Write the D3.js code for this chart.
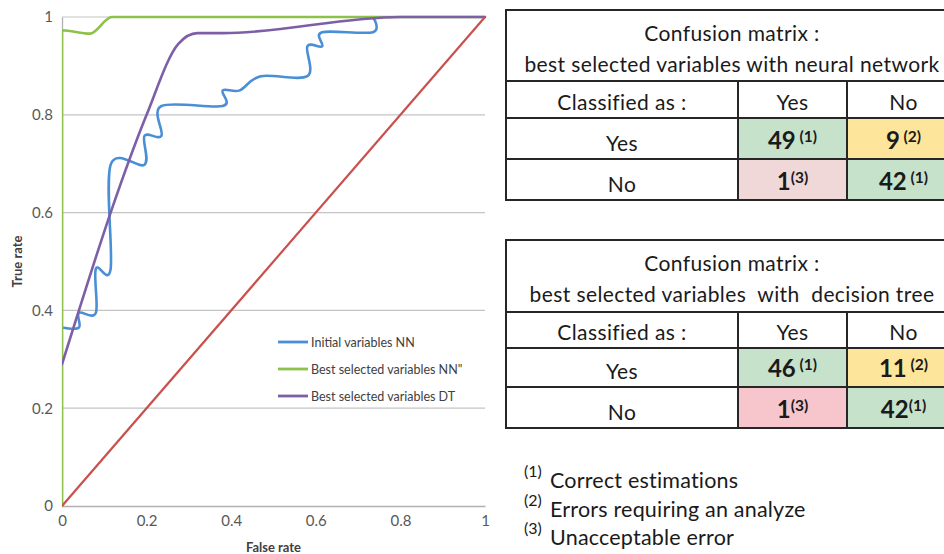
<!DOCTYPE html>
<html>
<head>
<meta charset="utf-8">
<script src="https://cdn.jsdelivr.net/npm/d3@7"></script>
<style>
  html, body { margin: 0; padding: 0; background: #ffffff; }
  svg { display: block; }
</style>
</head>
<body>
<svg id="chart" width="944" height="554"></svg>
<script>
// ---------------- DATA ----------------
const axisTicks = [0, 0.2, 0.4, 0.6, 0.8, 1];
const tickLabels = ["0", "0.2", "0.4", "0.6", "0.8", "1"];

const seriesNames = ["Initial variables NN", "Best selected variables NN\"", "Best selected variables DT"];
const seriesColors = ["#4a8fd6", "#8dc14a", "#7d5fa8"];
const diagonalColor = "#c9504c";

// Initial variables NN (false rate, true rate)
const initialFpr = [0, 0.04, 0.04, 0.08, 0.08, 0.115, 0.115, 0.195, 0.195, 0.235, 0.235, 0.38, 0.38, 0.42, 0.47, 0.58, 0.58, 0.615, 0.615, 0.735, 0.735];
const initialTpr = [0.365, 0.365, 0.395, 0.395, 0.485, 0.485, 0.698, 0.698, 0.757, 0.757, 0.818, 0.818, 0.85, 0.85, 0.879, 0.879, 0.94, 0.94, 0.969, 0.969, 1];

// Best selected variables NN"
const bestNNFpr = [0, 0, 0.066, 0.118, 1];
const bestNNTpr = [0, 0.973, 0.966, 1, 1];

// Best selected variables DT
const bestDTFpr = [0, 0.04, 0.115, 0.2, 0.275, 0.32, 0.38, 0.8, 1];
const bestDTTpr = [0.29, 0.4, 0.6, 0.8, 0.945, 0.967, 0.967, 1, 1];

// Random classifier diagonal
const diagFpr = [0, 1];
const diagTpr = [0, 1];

// Confusion matrices
const matrixColLabels = ["Yes", "No"];
const matrixRowLabels = ["Yes", "No"];
const nnTitle = ["Confusion matrix :", "best selected variables with neural network"];
const nnValues = [[49, 9], [1, 42]];
const nnNotes = [[" (1)", " (2)"], ["(3)", " (1)"]];
const dtTitle = ["Confusion matrix :", "best selected variables  with  decision tree"];
const dtValues = [[46, 11], [1, 42]];
const dtNotes = [[" (1)", " (2)"], ["(3)", "(1)"]];
const footnoteMarks = ["(1)", "(2)", "(3)"];
const footnoteTexts = ["Correct estimations", "Errors requiring an analyze", "Unacceptable error"];

// ---------------- CHART ----------------
const svg = d3.select("#chart");
const FONT = "Lato, 'Open Sans', sans-serif";

const x = d3.scaleLinear().domain([0, 1]).range([62, 485]);
const y = d3.scaleLinear().domain([0, 1]).range([506, 17]);

svg.append("defs").append("clipPath").attr("id", "plotclip")
  .append("rect").attr("x", x(0)).attr("y", 0).attr("width", 944 - x(0)).attr("height", 554);

// grid lines
svg.append("g")
  .selectAll("line")
  .data(axisTicks.filter(d => d > 0))
  .join("line")
  .attr("x1", x(0)).attr("x2", x(1))
  .attr("y1", d => y(d)).attr("y2", d => y(d))
  .attr("stroke", "#c4c4c4").attr("stroke-width", 1.2);

// axes
const xAxis = svg.append("g")
  .attr("transform", `translate(0,${y(0)})`)
  .call(d3.axisBottom(x).tickValues(axisTicks).tickFormat((d, i) => tickLabels[i]).tickSize(0).tickPadding(9));
xAxis.select(".domain").attr("stroke", "#b0b0b0").attr("stroke-width", 1.3);
xAxis.selectAll("text").attr("font-family", FONT).attr("font-size", 15).attr("fill", "#595959");

const yAxis = svg.append("g")
  .attr("transform", `translate(${x(0)},0)`)
  .call(d3.axisLeft(y).tickValues(axisTicks).tickFormat((d, i) => tickLabels[i]).tickSize(0).tickPadding(9));
yAxis.select(".domain").attr("stroke", "#b0b0b0").attr("stroke-width", 1.3);
yAxis.selectAll("text").attr("font-family", FONT).attr("font-size", 15).attr("fill", "#595959");

// axis titles
svg.append("text")
  .attr("x", x(0.5)).attr("y", 552)
  .attr("text-anchor", "middle")
  .attr("font-family", FONT).attr("font-weight", "bold").attr("font-size", 13)
  .attr("fill", "#404040")
  .text("False rate");
svg.append("text")
  .attr("transform", `translate(22,${y(0.5)}) rotate(-90)`)
  .attr("text-anchor", "middle")
  .attr("font-family", FONT).attr("font-weight", "bold").attr("font-size", 13)
  .attr("fill", "#404040")
  .text("True rate");

// lines
const curves = [
  d3.curveCardinal.tension(0),
  d3.curveMonotoneX,
  d3.curveMonotoneX
];
const straight = d3.line().x(d => x(d[0])).y(d => y(d[1]));

const zipPts = (a, b) => a.map((v, i) => [v, b[i]]);
const seriesData = [
  zipPts(initialFpr, initialTpr),
  zipPts(bestNNFpr, bestNNTpr),
  zipPts(bestDTFpr, bestDTTpr)
];

const lines = svg.append("g").attr("clip-path", "url(#plotclip)");
lines.selectAll("path.series")
  .data(seriesData)
  .join("path")
  .attr("class", "series")
  .attr("d", (d, i) => d3.line().x(p => x(p[0])).y(p => y(p[1])).curve(curves[i])(d))
  .attr("fill", "none")
  .attr("stroke", (d, i) => seriesColors[i])
  .attr("stroke-width", 2.6)
  .attr("stroke-linejoin", "round")
  .attr("stroke-linecap", "round");

lines.append("path")
  .attr("d", straight(zipPts(diagFpr, diagTpr)))
  .attr("fill", "none")
  .attr("stroke", diagonalColor)
  .attr("stroke-width", 2.2);

// legend
const legend = svg.append("g").attr("transform", "translate(278,342)");
const legItems = legend.selectAll("g")
  .data(seriesNames)
  .join("g")
  .attr("transform", (d, i) => `translate(0,${i * 27})`);
legItems.append("line")
  .attr("x1", 0).attr("x2", 30).attr("y1", 0).attr("y2", 0)
  .attr("stroke", (d, i) => seriesColors[i]).attr("stroke-width", 2.8);
legItems.append("text")
  .attr("x", 33).attr("y", 4.5)
  .attr("font-family", FONT).attr("font-size", 12.5).attr("fill", "#404040")
  .text(d => d);

// ---------------- TABLES ----------------
const colX = [506, 738, 847, 960];
const cellFill = [["#c7e2ca", "#fde59b"], [null, "#c7e2ca"]];
const TFS = 21;
const TLS = 0.4;

function tableText(g, xx, yy, str) {
  return g.append("text").attr("x", xx).attr("y", yy).attr("text-anchor", "middle")
    .attr("font-family", FONT).attr("font-size", TFS).attr("letter-spacing", TLS)
    .attr("fill", "#1a1a1a").style("white-space", "pre").text(str);
}

function drawTable(top, rows, title, values, notes, pinkFill) {
  const g = svg.append("g");
  const rowTops = [rows[1], rows[2]];
  const rowBots = [rows[2], rows[3]];
  values.forEach((row, r) => {
    row.forEach((v, c) => {
      const f = (r === 1 && c === 0) ? pinkFill : cellFill[r][c];
      g.append("rect")
        .attr("x", colX[c + 1]).attr("y", rowTops[r])
        .attr("width", colX[c + 2] - colX[c + 1]).attr("height", rowBots[r] - rowTops[r])
        .attr("fill", f);
    });
  });
  const stroke = "#262626";
  [top, rows[0], rows[1], rows[2], rows[3]].forEach(yy => {
    g.append("line").attr("x1", colX[0] - 1).attr("x2", 944).attr("y1", yy).attr("y2", yy)
      .attr("stroke", stroke).attr("stroke-width", 2);
  });
  g.append("line").attr("x1", colX[0]).attr("x2", colX[0]).attr("y1", top - 1).attr("y2", rows[3] + 1)
    .attr("stroke", stroke).attr("stroke-width", 2);
  [colX[1], colX[2]].forEach(xx => {
    g.append("line").attr("x1", xx).attr("x2", xx).attr("y1", rows[0]).attr("y2", rows[3] + 1)
      .attr("stroke", stroke).attr("stroke-width", 2);
  });
  const cx = (colX[0] + colX[3]) / 2 - 1;
  tableText(g, cx, top + 31, title[0]);
  tableText(g, cx, top + 62, title[1]);
  const hb = rows[1] - 8;
  tableText(g, (colX[0] + colX[1]) / 2, hb, "Classified as :");
  matrixColLabels.forEach((lab, c) => tableText(g, (colX[c + 1] + colX[c + 2]) / 2, hb, lab));
  matrixRowLabels.forEach((lab, r) => {
    tableText(g, (colX[0] + colX[1]) / 2, rowBots[r] - 8, lab);
    values[r].forEach((v, c) => {
      const t = g.append("text").attr("x", (colX[c + 1] + colX[c + 2]) / 2).attr("y", rowBots[r] - 10)
        .attr("text-anchor", "middle").style("white-space", "pre")
        .attr("font-family", FONT).attr("font-weight", "bold").attr("fill", "#1a1a1a");
      t.append("tspan").attr("font-size", 24).text(v);
      t.append("tspan").attr("font-size", 15.5).attr("dy", -7).text(notes[r][c]);
    });
  });
}

drawTable(10, [81, 118, 159, 200], nnTitle, nnValues, nnNotes, "#f1d8d8");
drawTable(240, [312, 348, 387, 428], dtTitle, dtValues, dtNotes, "#f7c6cd");

// footnotes
const fn = svg.append("g");
const fnBase = [488, 517, 545];
footnoteMarks.forEach((m, i) => {
  fn.append("text").attr("x", 524).attr("y", fnBase[i] - 11)
    .attr("font-family", FONT).attr("font-size", 16).attr("fill", "#1a1a1a").text(m);
  fn.append("text").attr("x", 550).attr("y", fnBase[i])
    .attr("font-family", FONT).attr("font-size", 21.5).attr("letter-spacing", 0.2)
    .attr("fill", "#1a1a1a").text(footnoteTexts[i]);
});
</script>
</body>
</html>
